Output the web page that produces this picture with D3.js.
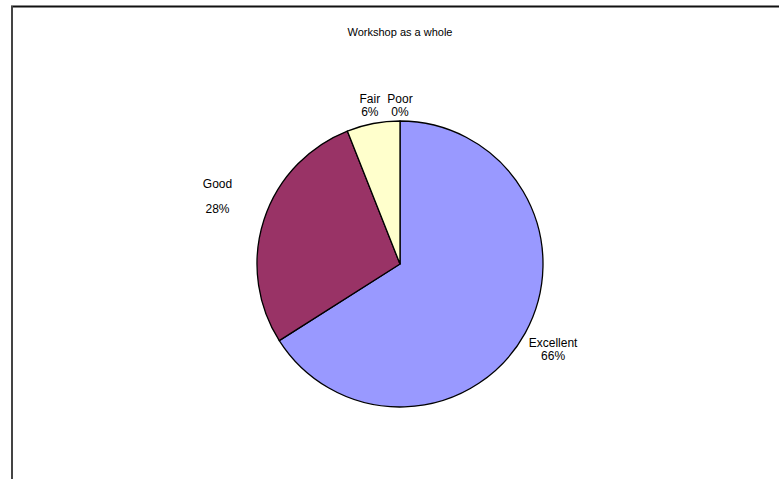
<!DOCTYPE html>
<html>
<head>
<meta charset="utf-8">
<script src="https://cdn.jsdelivr.net/npm/d3@7"></script>
<style>
  html, body { margin: 0; padding: 0; background: #fff; }
  svg text { font-family: "Liberation Sans", Arial, sans-serif; fill: #000; }
</style>
</head>
<body>
<svg id="chart" width="779" height="479"></svg>
<script>
// ---- data ----
const categories = ["Excellent", "Good", "Fair", "Poor"];
const values = [66, 28, 6, 0];
const colors = ["#9999FF", "#993366", "#FFFFCC", "#FFFFFF"];
const title = "Workshop as a whole";

// ---- layout ----
const W = 779, H = 479;
const cx = 400, cy = 264, R = 143;
const labelDist = { Excellent: 177, Good: 194, Fair: 161, Poor: 159 };
const labelShift = { Excellent: [-2, 0], Good: [2, -8], Fair: [0, 0], Poor: [0, 0] };
const lineGap = { Excellent: 13, Good: 25, Fair: 13, Poor: 13 };

const svg = d3.select("#chart");

// frame
svg.append("line").attr("x1", 11).attr("y1", 6.5).attr("x2", W + 5).attr("y2", 6.5)
  .attr("stroke", "#111").attr("stroke-width", 2);
svg.append("line").attr("x1", 12).attr("y1", 6).attr("x2", 12).attr("y2", H + 5)
  .attr("stroke", "#444").attr("stroke-width", 2);

// title
svg.append("text").attr("x", 400).attr("y", 36).attr("text-anchor", "middle")
  .attr("font-size", 11).text(title);

const data = categories.map((c, i) => ({ cat: c, value: values[i], color: colors[i] }));
const pie = d3.pie().value(d => d.value).sort(null);
const arcs = pie(data);
const arc = d3.arc().innerRadius(0).outerRadius(R);

const g = svg.append("g").attr("transform", `translate(${cx},${cy})`);
g.selectAll("path").data(arcs.filter(a => a.data.value > 0)).enter().append("path")
  .attr("d", arc)
  .attr("fill", d => d.data.color)
  .attr("stroke", "#000").attr("stroke-width", 1.3).attr("stroke-linejoin", "round");

const fmt = v => Math.round(v) + "%";
const total = d3.sum(values);

arcs.forEach(a => {
  const mid = (a.startAngle + a.endAngle) / 2;
  const d = labelDist[a.data.cat];
  const sh = labelShift[a.data.cat];
  const x = Math.sin(mid) * d + sh[0];
  const y = -Math.cos(mid) * d + sh[1];
  const gap = lineGap[a.data.cat];
  const y1 = y - gap / 2 + 4;
  g.append("text").attr("text-anchor", "middle").attr("font-size", 12)
    .attr("x", x).attr("y", y1).text(a.data.cat);
  g.append("text").attr("text-anchor", "middle").attr("font-size", 12)
    .attr("x", x).attr("y", y1 + gap).text(fmt(a.data.value / total * 100));
});
</script>
</body>
</html>
